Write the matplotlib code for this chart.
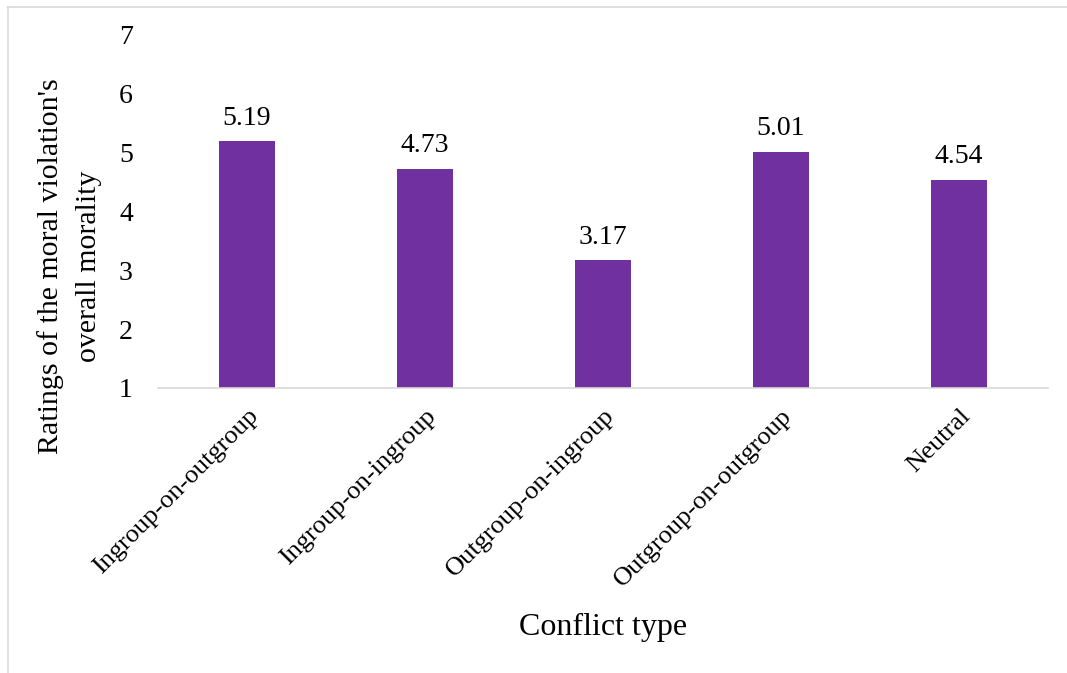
import matplotlib
matplotlib.use("Agg")
import matplotlib.pyplot as plt
from matplotlib.lines import Line2D

categories = ["Ingroup-on-outgroup", "Ingroup-on-ingroup", "Outgroup-on-ingroup",
              "Outgroup-on-outgroup", "Neutral"]
ratings = [5.19, 4.73, 3.17, 5.01, 4.54]
y_ticks = [1, 2, 3, 4, 5, 6, 7]

plt.rcParams['font.family'] = ['Liberation Serif', 'DejaVu Serif']

fig = plt.figure(figsize=(10.67, 6.73), dpi=100)
ax = fig.add_axes([0.148, 0.4235, 0.834, 0.5245])

x = list(range(len(categories)))
base = 1
ax.bar(x, [r - base for r in ratings], bottom=base, width=0.315, color='#7030A0')
for xi, r in zip(x, ratings):
    ax.text(xi, r + 0.18, f"{r:.2f}", ha='center', va='bottom', fontsize=20)

ax.set_xlim(-0.5, len(categories) - 0.5)
ax.set_ylim(1, 7)
ax.set_yticks(y_ticks)
ax.set_yticklabels([str(t) for t in y_ticks], fontsize=20)
ax.set_xticks(x)
ax.set_xticklabels(categories, rotation=45, ha='right', rotation_mode='anchor', fontsize=19)
ax.tick_params(axis='both', length=0)
ax.tick_params(axis='y', pad=18)
ax.tick_params(axis='x', pad=12)

for s in ['top', 'right', 'left']:
    ax.spines[s].set_visible(False)
ax.spines['bottom'].set_color('#d9d9d9')
ax.spines['bottom'].set_linewidth(1.2)

fig.text(0.065, 0.605, "Ratings of the moral violation's\noverall morality", rotation=90,
         ha='center', va='center', multialignment='center', fontsize=21.5, linespacing=1.6)
fig.text(0.565, 0.068, "Conflict type", ha='center', va='center', fontsize=23)

# outer frame (top and left edges visible)
fig.add_artist(Line2D([0.0075, 1.0], [0.9896, 0.9896], transform=fig.transFigure,
                      color='#d9d9d9', linewidth=1.2))
fig.add_artist(Line2D([0.0075, 0.0075], [0.0, 0.9896], transform=fig.transFigure,
                      color='#d9d9d9', linewidth=1.2))

fig.savefig("out.png", dpi=100)
